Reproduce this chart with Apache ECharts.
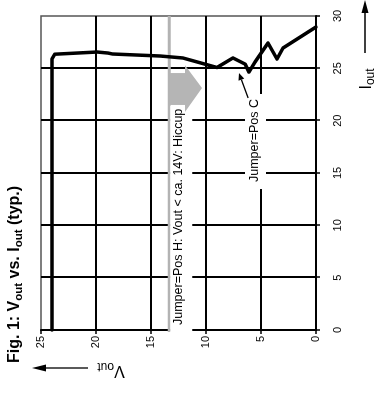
<!DOCTYPE html>
<html><head><meta charset="utf-8">
<script src="https://cdn.jsdelivr.net/npm/echarts@6/dist/echarts.min.js"></script>
<style>
html,body{margin:0;padding:0;background:#fff;overflow:hidden;width:378px;height:414px}
#wrap{position:absolute;left:0;top:0;width:414px;height:378px;transform-origin:0 0;transform:translate(0px,414px) rotate(-90deg);}
</style></head><body>
<div id="wrap"></div>
<script>
// Axis ticks
const ioutTicks = [0, 5, 10, 15, 20, 25, 30];
const voutTicks = [0, 5, 10, 15, 20, 25];
// Measured curve: output current (A) and output voltage (V)
const iout = [0, 25.9, 26.35, 26.56, 26.46, 26.37, 26.18, 25.99, 25.8, 25.08, 25.99, 25.41, 24.65, 25.6, 27.42, 25.89, 26.94, 28.95];
const vout = [24.0, 24.0, 23.75, 19.9, 18.9, 18.5, 14.2, 12.1, 11.45, 9.0, 7.55, 6.45, 6.1, 5.55, 4.36, 3.55, 3.0, 0];
// Annotations
const hiccupVout = 13.35;
const labelH = 'Jumper=Pos H: Vout < ca. 14V: Hiccup';
const labelC = 'Jumper=Pos C';

const FONT = '"Liberation Sans", Arial, sans-serif';
const chart = echarts.init(document.getElementById('wrap'), null, {renderer: 'canvas', width: 414, height: 378});

chart.setOption({
  animation: false,
  backgroundColor: '#fff',
  grid: {left: 84, right: 16, top: 41, bottom: 62, show: true, borderColor: '#555', borderWidth: 1.5, backgroundColor: 'transparent'},
  xAxis: {
    type: 'value', min: ioutTicks[0], max: ioutTicks[ioutTicks.length - 1], interval: 5,
    axisLine: {lineStyle: {color: '#000', width: 2}},
    axisTick: {show: true, length: 4, lineStyle: {color: '#000', width: 1.5}},
    axisLabel: {margin: 16, fontSize: 11, color: '#000', fontFamily: FONT},
    splitLine: {show: true, showMinLine: false, showMaxLine: false, lineStyle: {color: '#000', width: 2}}
  },
  yAxis: {
    type: 'value', min: voutTicks[0], max: voutTicks[voutTicks.length - 1], interval: 5,
    axisLine: {show: true, lineStyle: {color: '#000', width: 2}},
    axisTick: {show: true, length: 4, lineStyle: {color: '#000', width: 1.5}},
    axisLabel: {margin: 6, fontSize: 11, color: '#000', fontFamily: FONT},
    splitLine: {show: true, showMinLine: false, showMaxLine: false, lineStyle: {color: '#000', width: 2}}
  },
  series: [{
    type: 'line', data: iout.map((v, i) => [v, vout[i]]),
    showSymbol: false, symbol: 'none', z: 3,
    lineStyle: {color: '#000', width: 3.5, join: 'round', cap: 'round'}
  }]
});

function px(p) { return chart.convertToPixel({gridIndex: 0}, p); }

const g = [];
// gray hiccup threshold line
const a = px([0, hiccupVout]), b = px([30, hiccupVout]);
g.push({type: 'line', z: 2, shape: {x1: a[0] - 2, y1: a[1], x2: b[0], y2: b[1]}, style: {stroke: '#b3b3b3', lineWidth: 3}});
// label H
g.push({type: 'text', z: 50, x: a[0] - 2, y: a[1] + 1,
  style: {text: labelH, fontSize: 12.5, fontFamily: FONT, fill: '#000', backgroundColor: '#fff', padding: [1, 3, 7, 7], lineHeight: 14, align: 'left', verticalAlign: 'top'}});
// big gray arrow
const arrowPts = [[21.5, 13.27], [24.55, 13.27], [24.55, 11.9], [25.3, 11.9], [23.12, 10.36], [20.83, 11.9], [21.5, 11.9]].map(px);
g.push({type: 'polygon', z: 60, shape: {points: arrowPts}, style: {fill: '#b5b5b5'}});
// label C
const c0 = px([13.47, 6.45]);
g.push({type: 'text', z: 50, x: c0[0], y: c0[1],
  style: {text: labelC, fontSize: 12.5, fontFamily: FONT, fill: '#000', backgroundColor: '#fff', padding: [2, 5, 5, 7], lineHeight: 14, align: 'left', verticalAlign: 'top'}});
// small arrow for C
const tail = px([22.17, 6.18]), tip = px([24.55, 7.0]);
const dx = tip[0] - tail[0], dy = tip[1] - tail[1], L = Math.hypot(dx, dy), ux = dx / L, uy = dy / L;
const hl = 7, hw = 3;
const base = [tip[0] - ux * hl, tip[1] - uy * hl];
g.push({type: 'line', z: 55, shape: {x1: tail[0], y1: tail[1], x2: base[0], y2: base[1]}, style: {stroke: '#000', lineWidth: 1.3}});
g.push({type: 'polygon', z: 55, shape: {points: [tip, [base[0] - uy * hw, base[1] + ux * hw], [base[0] + uy * hw, base[1] - ux * hw]]}, style: {fill: '#000'}});

// axis names with arrows (layout)
const sub = {fontSize: 12, fontFamily: FONT, verticalAlign: 'bottom', lineHeight: 12};
const main = {fontSize: 16, fontFamily: FONT, verticalAlign: 'middle', lineHeight: 20};
g.push({type: 'text', z: 50, x: 44, y: 111, rotation: Math.PI / 2,
  style: {text: '{m|V}{s|out}', rich: {m: main, s: sub}, fill: '#000', align: 'center', verticalAlign: 'middle'}});
g.push({type: 'line', z: 50, shape: {x1: 46, y1: 88, x2: 46, y2: 44}, style: {stroke: '#000', lineWidth: 1.3}});
g.push({type: 'polygon', z: 50, shape: {points: [[46, 32], [42.5, 46], [49.5, 46]]}, style: {fill: '#000'}});
g.push({type: 'text', z: 50, x: 335, y: 367,
  style: {text: '{m|I}{s|out}', rich: {m: main, s: sub}, fill: '#000', align: 'center', verticalAlign: 'middle'}});
g.push({type: 'line', z: 50, shape: {x1: 361, y1: 365, x2: 403, y2: 365}, style: {stroke: '#000', lineWidth: 1.3}});
g.push({type: 'polygon', z: 50, shape: {points: [[414, 365], [401, 361.5], [401, 368.5]]}, style: {fill: '#000'}});
// title
const tb = {fontSize: 16, fontWeight: 'bold', fontFamily: FONT, verticalAlign: 'middle', lineHeight: 20};
const ts = {fontSize: 11.5, fontWeight: 'bold', fontFamily: FONT, verticalAlign: 'bottom', lineHeight: 11.5};
g.push({type: 'text', z: 50, x: 51, y: 15,
  style: {text: '{b|Fig. 1: V}{s|out}{b| vs. I}{s|out}{b| (typ.)}', rich: {b: tb, s: ts}, fill: '#000', align: 'left', verticalAlign: 'middle'}});

chart.setOption({graphic: g});
</script>
</body></html>
